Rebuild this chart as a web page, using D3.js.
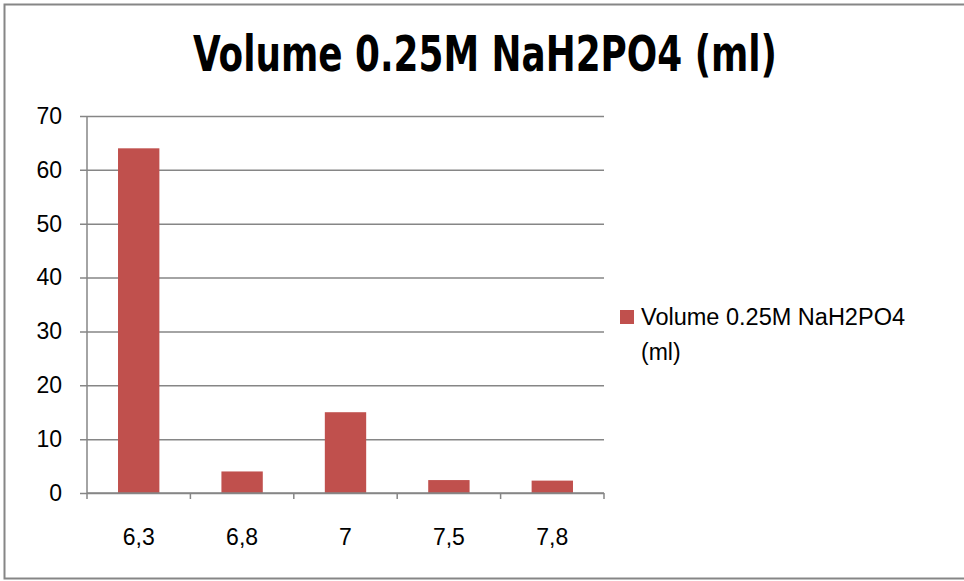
<!DOCTYPE html>
<html>
<head>
<meta charset="utf-8">
<script src="https://cdn.jsdelivr.net/npm/d3@7/dist/d3.min.js"></script>
<style>
  html, body { margin: 0; padding: 0; background: #fff; }
  svg { display: block; }
</style>
</head>
<body>
<svg id="chart" width="964" height="581"></svg>
<script>
const title = "Volume 0.25M NaH2PO4 (ml)";
const categories = ["6,3", "6,8", "7", "7,5", "7,8"];
const values = [64, 4, 15, 2.4, 2.3];
const seriesName = "Volume 0.25M NaH2PO4 (ml)";
const legendLines = ["Volume 0.25M NaH2PO4", "(ml)"];
const yTicks = [0, 10, 20, 30, 40, 50, 60, 70];

const svg = d3.select("#chart");
const W = 964, H = 581;
const plot = { left: 87, right: 604, top: 116, bottom: 493 };
const gray = "#868686";
const barColor = "#C0504D";
const titleFont = "'DejaVu Sans Condensed', 'Liberation Sans', sans-serif";
const font = "'Liberation Sans', Arial, sans-serif";

svg.append("rect").attr("width", W).attr("height", H).attr("fill", "#fff");
// outer frame
svg.append("rect")
  .attr("x", 4.5).attr("y", 4.5).attr("width", W + 5).attr("height", 574)
  .attr("fill", "none").attr("stroke", gray).attr("stroke-width", 2);

// title
svg.append("text")
  .attr("x", 485).attr("y", 71)
  .attr("text-anchor", "middle")
  .attr("font-family", titleFont)
  .attr("font-weight", "bold")
  .attr("font-size", 50)
  .attr("textLength", 584).attr("lengthAdjust", "spacingAndGlyphs")
  .attr("fill", "#000")
  .text(title);

const x = d3.scaleBand().domain(categories)
  .range([plot.left, plot.right]).paddingInner(0.6).paddingOuter(0.3);
const y = d3.scaleLinear().domain([0, 70]).range([plot.bottom, plot.top]);

// gridlines + y axis
const yAxis = d3.axisLeft(y).tickValues(yTicks)
  .tickSize(-(plot.right - plot.left)).tickPadding(18).tickFormat(d3.format("d"));
const gy = svg.append("g").attr("transform", `translate(${plot.left},0)`).call(yAxis);
gy.select(".domain").remove();
gy.selectAll(".tick line").attr("stroke", gray).attr("stroke-width", 1.5).attr("x1", -7);
gy.selectAll(".tick text").attr("font-family", font).attr("font-size", 23).attr("fill", "#000")
  .attr("x", -25);

// y axis line
svg.append("line").attr("x1", plot.left).attr("x2", plot.left)
  .attr("y1", y(70)).attr("y2", y(0) + 6)
  .attr("stroke", gray).attr("stroke-width", 1.5);

// bars
svg.append("g").selectAll("rect").data(values).join("rect")
  .attr("x", (d, i) => x(categories[i]))
  .attr("y", d => y(d))
  .attr("width", x.bandwidth())
  .attr("height", d => y(0) - y(d))
  .attr("fill", barColor);

// x axis
const step = x.step();
const boundaries = d3.range(categories.length + 1).map(i => plot.left + i * step);
svg.append("line").attr("x1", plot.left).attr("x2", plot.right)
  .attr("y1", y(0)).attr("y2", y(0)).attr("stroke", gray).attr("stroke-width", 1.5);
svg.append("g").selectAll("line").data(boundaries.slice(1)).join("line")
  .attr("x1", d => d).attr("x2", d => d)
  .attr("y1", y(0)).attr("y2", y(0) + 6)
  .attr("stroke", gray).attr("stroke-width", 1.5);

const xAxis = d3.axisBottom(x).tickSize(0).tickPadding(0);
const gx = svg.append("g").attr("transform", `translate(0,${y(0)})`).call(xAxis);
gx.select(".domain").remove();
gx.selectAll(".tick text").attr("font-family", font).attr("font-size", 23).attr("fill", "#000")
  .attr("dy", null).attr("y", 52);

// legend
const lg = svg.append("g");
lg.append("rect").attr("x", 620).attr("y", 310).attr("width", 14).attr("height", 14).attr("fill", barColor);
lg.selectAll("text").data(legendLines).join("text")
  .attr("x", 641).attr("y", (d, i) => 325 + i * 35)
  .attr("font-family", font).attr("font-size", 23).attr("fill", "#000")
  .attr("textLength", (d, i) => i === 0 ? 264 : null)
  .attr("lengthAdjust", "spacingAndGlyphs")
  .text(d => d);
</script>
</body>
</html>
